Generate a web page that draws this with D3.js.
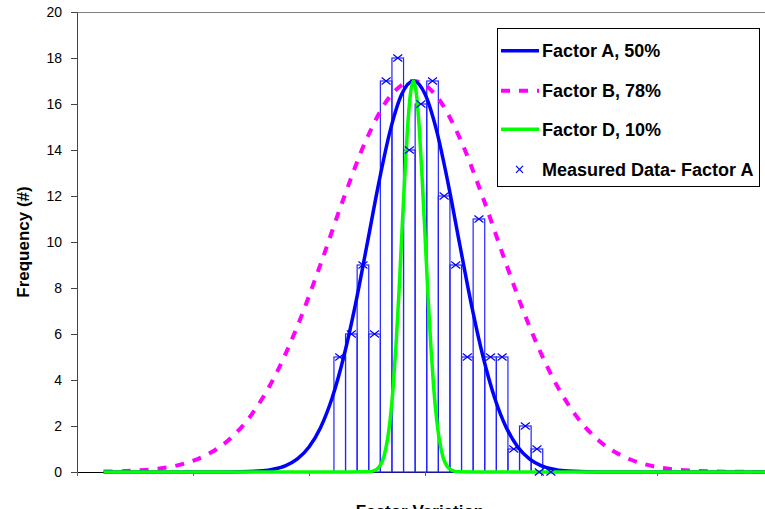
<!DOCTYPE html>
<html>
<head>
<meta charset="utf-8">
<script src="https://cdn.jsdelivr.net/npm/d3@7"></script>
<style>
  body { margin: 0; background: #fff; }
  svg { display: block; font-family: "Liberation Sans", Arial, sans-serif; }
</style>
</head>
<body>
<svg id="svg" width="765" height="509"></svg>
<script>
// measured histogram (bin centres on the factor scale, counts)
const measuredX = [22.65, 23.65, 24.65, 25.65, 26.65, 27.65, 28.65, 29.65, 30.65, 31.65,
  32.65, 33.65, 34.65, 35.65, 36.65, 37.65, 38.65, 39.65, 39.85, 40.85];
const measuredY = [5, 6, 9, 6, 17, 18, 14, 16, 17, 12, 9, 5, 11, 5, 5, 1, 2, 1, 0, 0];

// Factor A, 50%
const factorAX = [2.3, 8, 12, 14, 16, 17, 18, 19, 20, 21, 22, 23, 24, 25, 26, 27, 28, 29,
  30, 31, 32, 33, 34, 35, 36, 37, 38, 39, 40, 41, 42, 44, 46, 50, 60];
const factorAY = [0, 0, 0, 0.01, 0.05, 0.13, 0.28, 0.57, 1.09, 1.94, 3.23, 5.02, 7.28, 9.88,
  12.53, 14.84, 16.43, 17, 16.43, 14.84, 12.53, 9.88, 7.28, 5.02, 3.23, 1.94, 1.09, 0.57,
  0.28, 0.13, 0.05, 0.01, 0, 0, 0];

// Factor B, 78%
const factorBX = [2.3, 5, 7, 9, 11, 13, 15, 17, 19, 21, 23, 25, 27, 29, 31, 33, 35, 37, 39,
  41, 43, 45, 47, 49, 51, 53, 55, 57, 60];
const factorBY = [0.02, 0.06, 0.14, 0.33, 0.7, 1.36, 2.46, 4.11, 6.34, 9.04, 11.92, 14.52,
  16.34, 17, 16.34, 14.52, 11.92, 9.04, 6.34, 4.11, 2.46, 1.36, 0.7, 0.33, 0.14, 0.06, 0.02,
  0.01, 0];

// Factor D, 10%
const factorDX = [2.3, 20, 25, 25.5, 26, 26.5, 27, 27.25, 27.5, 27.75, 28, 28.25, 28.5,
  28.75, 29, 29.25, 29.5, 29.75, 30, 30.25, 30.5, 30.75, 31, 31.5, 32, 32.5, 33, 38, 60];
const factorDY = [0, 0, 0.01, 0.04, 0.19, 0.75, 2.3, 3.66, 5.51, 7.75, 10.31, 12.81, 15,
  16.47, 17, 16.47, 15, 12.81, 10.31, 7.75, 5.51, 3.66, 2.3, 0.75, 0.19, 0.04, 0.01, 0, 0];

const yTicks = [0, 2, 4, 6, 8, 10, 12, 14, 16, 18, 20];
const xTicks = [0, 10, 20, 30, 40, 50, 60];

const legendItems = ["Factor A, 50%", "Factor B, 78%", "Factor D, 10%", "Measured Data- Factor A"];

const blue = "#0000ff", magenta = "#ff00ff", green = "#00ff00", barBlue = "#2323ff";

const svg = d3.select("#svg");
const x = d3.scaleLinear().domain([0, 60]).range([77, 773]);
const y = d3.scaleLinear().domain([0, 20]).range([472, 12]);

// top border of plot area
svg.append("line")
  .attr("x1", x(0)).attr("x2", x(60))
  .attr("y1", y(20) + 0.5).attr("y2", y(20) + 0.5)
  .attr("stroke", "#808080");

// axes
const yAxis = svg.append("g")
  .attr("transform", `translate(${x(0)},0)`)
  .call(d3.axisLeft(y).tickValues(yTicks).tickSize(6).tickSizeOuter(0).tickPadding(9));
yAxis.select(".domain").attr("stroke", "#444");
yAxis.selectAll(".tick line").attr("stroke", "#444");
yAxis.selectAll("text").attr("font-size", 14).attr("fill", "#000")
  .attr("font-family", "Liberation Sans, Arial, sans-serif");

const xAxis = svg.append("g")
  .attr("transform", `translate(0,${y(0)})`)
  .call(d3.axisBottom(x).tickValues(xTicks).tickFormat("").tickSize(4).tickSizeOuter(0));
xAxis.select(".domain").attr("stroke", "#000");
xAxis.selectAll(".tick line").attr("stroke", "#666");

// measured bars
const measured = measuredX.map((d, i) => ({ x: d, y: measuredY[i] }));
svg.append("g")
  .selectAll("rect")
  .data(measured)
  .join("rect")
  .attr("x", d => x(d.x - 0.5))
  .attr("y", d => y(d.y))
  .attr("width", d => x(d.x + 0.5) - x(d.x - 0.5))
  .attr("height", d => y(0) - y(d.y))
  .attr("fill", "none")
  .attr("stroke", barBlue)
  .attr("stroke-width", 1.2);

const line = d3.line()
  .curve(d3.curveMonotoneX)
  .x(d => x(d[0]))
  .y(d => y(d[1]));

svg.append("path")
  .attr("d", line(factorBX.map((d, i) => [d, factorBY[i]])))
  .attr("fill", "none")
  .attr("stroke", magenta)
  .attr("stroke-width", 4)
  .attr("stroke-dasharray", "9,9");

svg.append("path")
  .attr("d", line(factorAX.map((d, i) => [d, factorAY[i]])))
  .attr("fill", "none")
  .attr("stroke", blue)
  .attr("stroke-width", 3.5);

svg.append("path")
  .attr("d", line(factorDX.map((d, i) => [d, factorDY[i]])))
  .attr("fill", "none")
  .attr("stroke", green)
  .attr("stroke-width", 3.5);

// markers
const cross = (cx, cy, w, h) =>
  `M${cx - w},${cy - h}L${cx + w},${cy + h}M${cx - w},${cy + h}L${cx + w},${cy - h}`;
svg.append("g")
  .selectAll("path")
  .data(measured)
  .join("path")
  .attr("d", d => cross(x(d.x), y(d.y), 4.5, 3.5))
  .attr("fill", "none")
  .attr("stroke", blue)
  .attr("stroke-width", 1.2);

// axis titles
svg.append("text")
  .attr("transform", "translate(28.5,242) rotate(-90)")
  .attr("text-anchor", "middle")
  .attr("font-size", 17)
  .attr("font-weight", "bold")
  .text("Frequency (#)");

svg.append("text")
  .attr("x", 420)
  .attr("y", 517)
  .attr("text-anchor", "middle")
  .attr("font-size", 17)
  .attr("font-weight", "bold")
  .text("Factor Variation");

// legend
const legend = svg.append("g");
legend.append("rect")
  .attr("x", 497.5).attr("y", 28.5)
  .attr("width", 262).attr("height", 158)
  .attr("fill", "#fff")
  .attr("stroke", "#000");

const rowY = [50.7, 90.7, 129.3, 169.3];
const rows = legend.selectAll("g.row")
  .data(legendItems)
  .join("g")
  .attr("class", "row")
  .attr("transform", (d, i) => `translate(0,${rowY[i]})`);

rows.append("text")
  .attr("x", 542)
  .attr("y", 6.5)
  .attr("font-size", 18)
  .attr("font-weight", "bold")
  .text(d => d);

rows.filter((d, i) => i < 3).append("line")
  .attr("x1", 501).attr("x2", 539)
  .attr("stroke", (d, i) => [blue, magenta, green][i])
  .attr("stroke-width", (d, i) => i == 1 ? 4 : 3.5)
  .attr("stroke-dasharray", (d, i) => i == 1 ? "9,9" : null);

rows.filter((d, i) => i == 3).append("path")
  .attr("d", cross(519.5, 0, 3.5, 3.5))
  .attr("fill", "none")
  .attr("stroke", blue)
  .attr("stroke-width", 1.2);
</script>
</body>
</html>
